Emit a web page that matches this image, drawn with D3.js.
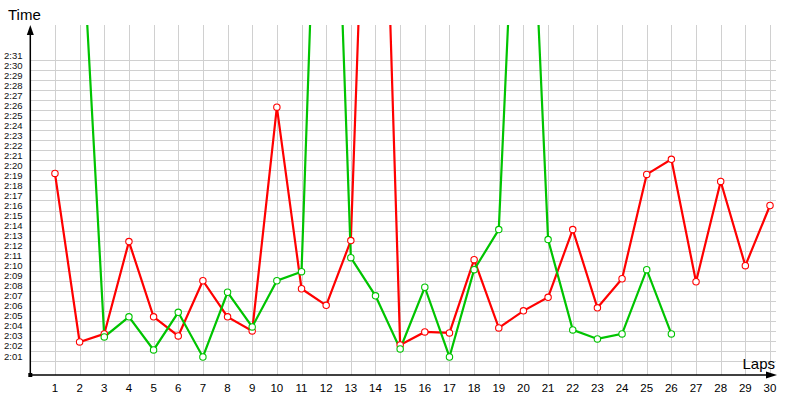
<!DOCTYPE html>
<html><head><meta charset="utf-8">
<script src="https://cdn.jsdelivr.net/npm/d3@7"></script>
<style>
html,body{margin:0;padding:0;background:#fff;}
svg{display:block;font-family:"Liberation Sans",Arial,sans-serif;}
</style></head>
<body><svg id="c" width="800" height="400"></svg>
<script>
const laps = [1,2,3,4,5,6,7,8,9,10,11,12,13,14,15,16,17,18,19,20,21,22,23,24,25,26,27,28,29,30];
// lap times in seconds
const redTimes = [139.7,122.9,123.7,132.9,125.4,123.5,129.0,125.4,124.0,146.3,128.2,126.55,133.0,203.0,122.6,123.9,123.8,131.1,124.3,126.0,127.35,134.1,126.3,129.2,139.6,141.1,128.9,138.9,130.5,136.5];
const greenTimes = [null,168.5,123.4,125.4,122.1,125.85,121.4,127.85,124.4,129.0,129.9,201.0,131.3,127.5,122.2,128.35,121.4,130.1,134.1,188.5,133.1,124.1,123.2,123.7,130.1,123.7,null,null,null,null];
const yTickValues = [121,122,123,124,125,126,127,128,129,130,131,132,133,134,135,136,137,138,139,140,141,142,143,144,145,146,147,148,149,150,151];
const yTickLabels = ["2:01","2:02","2:03","2:04","2:05","2:06","2:07","2:08","2:09","2:10","2:11","2:12","2:13","2:14","2:15","2:16","2:17","2:18","2:19","2:20","2:21","2:22","2:23","2:24","2:25","2:26","2:27","2:28","2:29","2:30","2:31"];
const xTickLabels = laps.map(String);

const svg = d3.select("#c");
const x0 = 30.3, y0 = 375, yTop = 25, xRight = 776;
const x = d3.scaleLinear().domain([0,30]).range([x0, 770]);
const y = d3.scaleLinear().domain([121,151]).range([361,60]);

// grid
const grid = svg.append("g").attr("stroke","#d0d0d0").attr("stroke-width",1).attr("shape-rendering","crispEdges");
grid.selectAll(".h").data(yTickValues).join("line").attr("class","h")
  .attr("x1",x0).attr("x2",xRight).attr("y1",d=>Math.round(y(d))+0.5).attr("y2",d=>Math.round(y(d))+0.5);
grid.selectAll(".v").data(laps).join("line").attr("class","v")
  .attr("x1",d=>Math.round(x(d))+0.5).attr("x2",d=>Math.round(x(d))+0.5).attr("y1",yTop).attr("y2",y0);

// y tick labels (drawn just above their grid line)
svg.append("g").selectAll("text").data(yTickValues).join("text")
  .attr("x",4).attr("y",d=>y(d)-1.5)
  .attr("font-size","9.5px").attr("fill","#111")
  .text((d,i)=>yTickLabels[i]);

// x tick labels
svg.append("g").selectAll("text").data(laps).join("text")
  .attr("x",d=>x(d)).attr("y",392).attr("text-anchor","middle")
  .attr("font-size","11.5px").attr("fill","#000")
  .text((d,i)=>xTickLabels[i]);

// clip
svg.append("clipPath").attr("id","clip").append("rect")
  .attr("x",x0).attr("y",yTop).attr("width",xRight-x0+10).attr("height",y0-yTop);

const line = d3.line().defined(d=>d.v!=null).x(d=>x(d.lap)).y(d=>y(d.v));
const series = [
  {color:"#ff0000", vals:redTimes},
  {color:"#00c400", vals:greenTimes}
];
const plot = svg.append("g").attr("clip-path","url(#clip)");
series.forEach(s=>{
  const pts = laps.map((l,i)=>({lap:l, v:s.vals[i]}));
  plot.append("path").datum(pts).attr("d",line)
    .attr("fill","none").attr("stroke",s.color).attr("stroke-width",2.2).attr("stroke-linejoin","miter");
});
series.forEach(s=>{
  const pts = laps.map((l,i)=>({lap:l, v:s.vals[i]})).filter(d=>d.v!=null);
  plot.append("g").selectAll("circle").data(pts).join("circle")
    .attr("cx",d=>x(d.lap)).attr("cy",d=>y(d.v)).attr("r",3.2)
    .attr("fill","#fff").attr("stroke",s.color).attr("stroke-width",1.1);
});

// axes
svg.append("line").attr("x1",x0).attr("x2",x0).attr("y1",y0).attr("y2",yTop+6).attr("stroke","#000").attr("stroke-width",1.5);
svg.append("line").attr("x1",x0).attr("x2",xRight-6).attr("y1",y0).attr("y2",y0).attr("stroke","#000").attr("stroke-width",1.5);
svg.append("path").attr("d",`M${x0},${yTop} L${x0-3.5},${yTop+10} L${x0+3.5},${yTop+10} Z`).attr("fill","#000");
svg.append("path").attr("d",`M${xRight+1},${y0} L${xRight-10},${y0-3.5} L${xRight-10},${y0+3.5} Z`).attr("fill","#000");
svg.append("rect").attr("x",x0-2).attr("y",y0-2).attr("width",4).attr("height",4).attr("fill","#000");

// axis titles
svg.append("text").attr("x",8).attr("y",20).attr("font-size","15px").attr("fill","#000").text("Time");
svg.append("text").attr("x",775).attr("y",369).attr("text-anchor","end").attr("font-size","15px").attr("fill","#000").text("Laps");
</script></body></html>
